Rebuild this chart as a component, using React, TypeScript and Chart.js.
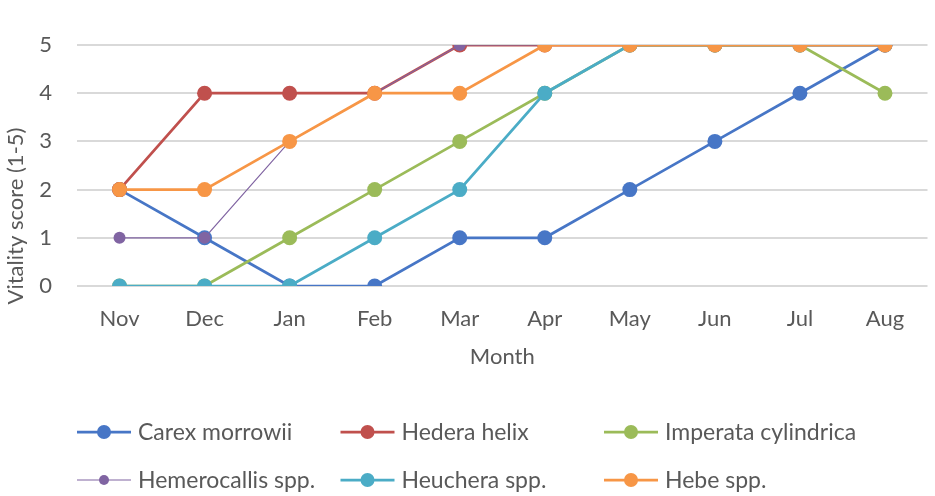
import React, { useEffect, useRef } from 'react';
import { Chart, registerables } from 'chart.js';

Chart.register(...registerables);

const FONT = "Lato, 'Open Sans', sans-serif";
const TEXT = '#595959';

const months = ['Nov', 'Dec', 'Jan', 'Feb', 'Mar', 'Apr', 'May', 'Jun', 'Jul', 'Aug'];
const seriesNames = [
  'Carex morrowii',
  'Hedera helix',
  'Imperata cylindrica',
  'Hemerocallis spp.',
  'Heuchera spp.',
  'Hebe spp.',
];
const carex = [2, 1, 0, 0, 1, 1, 2, 3, 4, 5];
const hedera = [2, 4, 4, 4, 5, 5, 5, 5, 5, 5];
const imperata = [0, 0, 1, 2, 3, 4, 5, 5, 5, 4];
const hemerocallis = [1, 1, 3, 4, 5, 5, 5, 5, 5, 5];
const heuchera = [0, 0, 0, 1, 2, 4, 5, 5, 5, 5];
const hebe = [2, 2, 3, 4, 4, 5, 5, 5, 5, 5];
const seriesValues = [carex, hedera, imperata, hemerocallis, heuchera, hebe];
const seriesColors = ['#4776C6', '#C0504D', '#9BBB59', '#8064A2', '#4BACC6', '#F79646'];
const yMin = 0;
const yMax = 5;
const xTitle = 'Month';
const yTitle = 'Vitality score (1-5)';

const extras = {
  id: 'extras',
  afterDraw(chart: any) {
    const ctx = chart.ctx;
    const ca = chart.chartArea;
    ctx.save();
    ctx.fillStyle = TEXT;
    ctx.font = `22px ${FONT}`;
    ctx.textAlign = 'center';
    ctx.textBaseline = 'middle';
    ctx.fillText(xTitle, (ca.left + ca.right) / 2, 357);
    ctx.save();
    ctx.translate(16, 216);
    ctx.rotate(-Math.PI / 2);
    ctx.fillText(yTitle, 0, 0);
    ctx.restore();

    // legend
    ctx.font = `23px ${FONT}`;
    chart.data.datasets.forEach((ds: any, i: number) => {
      const col = i % 3;
      const row = Math.floor(i / 3);
      const x0 = 77 + col * 263.5;
      const y = 432 + row * 48;
      const thin = ds.borderWidth < 2;
      ctx.strokeStyle = ds.borderColor;
      ctx.lineWidth = ds.borderWidth;
      ctx.beginPath();
      ctx.moveTo(x0, y);
      ctx.lineTo(x0 + 54, y);
      ctx.stroke();
      ctx.fillStyle = ds.pointBackgroundColor;
      ctx.beginPath();
      ctx.arc(x0 + 27, y, thin ? 5 : 7, 0, Math.PI * 2);
      ctx.fill();
      ctx.fillStyle = TEXT;
      ctx.textAlign = 'left';
      ctx.fillText(ds.label, x0 + 61, y + 1);
    });
    ctx.restore();
  },
};

export default function App() {
  const ref = useRef<HTMLCanvasElement>(null);
  useEffect(() => {
    document.body.style.margin = '0';
    const datasets = seriesNames.map((name, i) => {
      const thin = i === 3;
      return {
        label: name,
        data: seriesValues[i],
        borderColor: seriesColors[i],
        backgroundColor: seriesColors[i],
        pointBackgroundColor: seriesColors[i],
        pointBorderColor: seriesColors[i],
        borderWidth: thin ? 1.2 : 2.75,
        pointRadius: thin ? 6 : 7.5,
        pointBorderWidth: 0,
        pointHoverRadius: thin ? 6 : 7.5,
        tension: 0,
        fill: false,
        order: seriesNames.length - i,
      };
    });
    const chart = new Chart(ref.current!, {
      type: 'line',
      data: { labels: months, datasets },
      options: {
        animation: false,
        responsive: false,
        events: [],
        layout: { padding: { left: 0, right: 4, top: 45, bottom: 0 } },
        plugins: { legend: { display: false }, tooltip: { enabled: false } },
        scales: {
          x: {
            offset: true,
            grid: { display: false, drawTicks: false },
            border: { display: false },
            ticks: { color: TEXT, font: { family: FONT, size: 22 }, padding: 20, maxRotation: 0 },
            afterFit: (s: any) => {
              s.height = 210;
            },
          },
          y: {
            min: yMin,
            max: yMax,
            grid: { color: '#D9D9D9', lineWidth: 2, drawTicks: false },
            border: { display: false },
            ticks: { stepSize: 1, color: TEXT, font: { family: FONT, size: 22 }, padding: 25 },
            afterFit: (s: any) => {
              s.width = 77;
            },
          },
        },
      },
      plugins: [extras],
    });
    return () => chart.destroy();
  }, []);
  return (
    <div style={{ position: 'absolute', left: 0, top: 0, width: 935, height: 496, background: '#fff' }}>
      <canvas ref={ref} width={935} height={496} style={{ display: 'block' }} />
    </div>
  );
}
